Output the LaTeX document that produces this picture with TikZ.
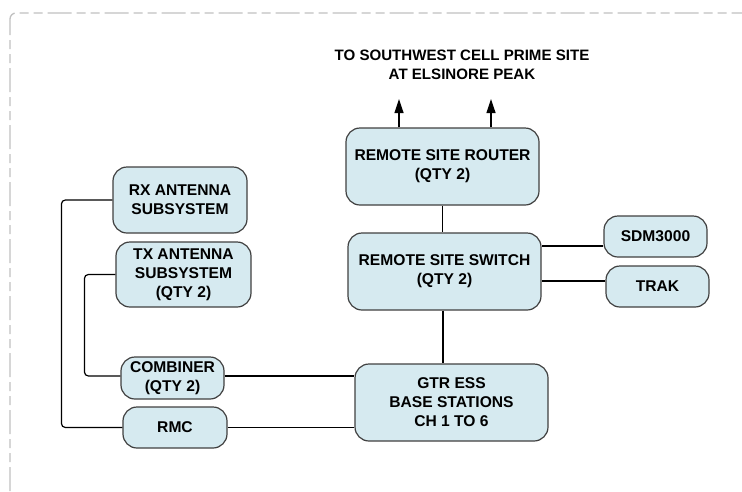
\documentclass[tikz,border=0pt]{standalone}
\usepackage{fontspec}
\setmainfont{Liberation Sans}
\usetikzlibrary{arrows.meta}
\definecolor{boxfill}{RGB}{214,234,240}
\definecolor{boxline}{RGB}{64,64,64}
\definecolor{framegray}{RGB}{192,192,192}
\begin{document}
\begin{tikzpicture}[x=1pt,y=-1pt,
  lbl/.style={font=\bfseries\fontsize{15.6}{19}\selectfont, align=center},
  box/.style={lbl, draw=boxline, line width=1.2pt, fill=boxfill, rounded corners=14pt, inner sep=0pt},
  conn/.style={line width=1.2pt, draw=black, rounded corners=4pt},
  tip/.style={-{Triangle[length=14pt,width=9pt]}}]
\useasboundingbox (0,0) rectangle (742,491);
\draw[framegray, line width=1.3pt, rounded corners=6pt,
      dash pattern=on 24pt off 5pt on 9pt off 5pt on 9pt off 5pt]
  (10,491) -- (10,13) -- (742,13);

\node[lbl, font=\bfseries\fontsize{15.1}{19}\selectfont] (title) at (462,64.5) {TO SOUTHWEST CELL PRIME SITE\\AT ELSINORE PEAK};

\node[box, minimum width=193pt, minimum height=77pt] (router) at (442.5,166.5) {REMOTE SITE ROUTER\\(QTY 2)};
\node[box, minimum width=193pt, minimum height=77pt] (switch) at (444.5,271.5) {REMOTE SITE SWITCH\\(QTY 2)};
\node[box, minimum width=103pt, minimum height=41pt] (sdm) at (655.5,236.5) {SDM3000};
\node[box, minimum width=103pt, minimum height=41pt] (trak) at (657.5,286.5) {TRAK};
\node[box, minimum width=193pt, minimum height=77pt] (gtr) at (451.5,402.5) {GTR ESS\\BASE STATIONS\\CH 1 TO 6};
\node[box, minimum width=134pt, minimum height=66pt] (rx) at (180,200) {RX ANTENNA\\SUBSYSTEM};
\node[box, minimum width=135pt, minimum height=65pt] (tx) at (183.5,274.5) {TX ANTENNA\\SUBSYSTEM\\(QTY 2)};
\node[box, minimum width=103pt, minimum height=42pt] (comb) at (172.5,378) {COMBINER\\(QTY 2)};
\node[box, minimum width=104pt, minimum height=41pt] (rmc) at (175,427.5) {RMC};

\coordinate (t1) at (399,99);
\coordinate (t2) at (491,99);
\draw[conn, tip] (router.north -| t1) -- (t1);
\draw[conn, tip] (router.north -| t2) -- (t2);

\draw[conn] (router.south) -- (router.south |- switch.north);
\draw[conn] ([yshift=-9.5pt]sdm.west) coordinate (s1) -- (switch.east |- s1);
\draw[conn] ([yshift=5.5pt]trak.west) coordinate (s2) -- (switch.east |- s2);
\draw[conn] ([xshift=-1.5pt]switch.south) -- ([xshift=-1.5pt]switch.south |- gtr.north);
\draw[conn] ([yshift=2pt]comb.east) coordinate (c1) -- (gtr.west |- c1);
\draw[conn] (rmc.east) -- (gtr.west |- rmc.east);
\draw[conn] (rx.west) -- ++(-51,0) |- (rmc.west);
\draw[conn] (tx.west) -- ++(-31,0) |- ([yshift=2pt]comb.west);
\end{tikzpicture}
\end{document}
